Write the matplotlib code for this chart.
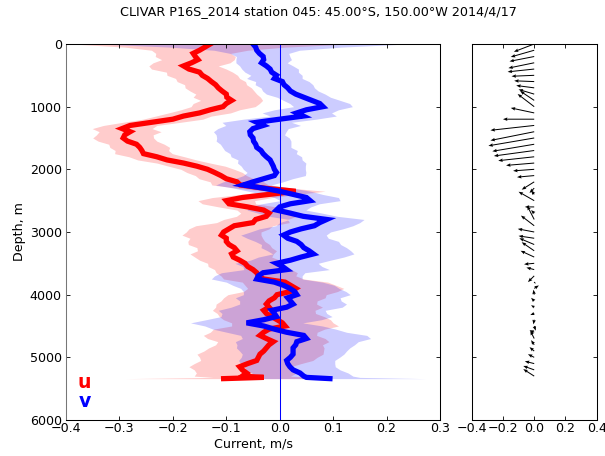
import numpy as np
import matplotlib
matplotlib.use("Agg")
import matplotlib.pyplot as plt

title = "CLIVAR P16S_2014 station 045: 45.00\u00b0S, 150.00\u00b0W 2014/4/17"

depth = [0, 50, 100, 150, 200, 250, 300, 350, 400, 450, 500, 550, 600, 650, 700, 750,
         800, 850, 900, 950, 1000, 1050, 1100, 1150, 1200, 1250, 1300, 1350, 1400, 1450,
         1500, 1550, 1600, 1650, 1700, 1750, 1800, 1850, 1900, 1950, 2000, 2050, 2100,
         2150, 2200, 2250, 2300, 2350, 2400, 2450, 2500, 2550, 2600, 2650, 2700, 2750,
         2800, 2850, 2900, 2950, 3000, 3050, 3100, 3150, 3200, 3250, 3300, 3350, 3400,
         3450, 3500, 3550, 3600, 3650, 3700, 3750, 3800, 3850, 3900, 3950, 4000, 4050,
         4100, 4150, 4200, 4250, 4300, 4350, 4400, 4450, 4500, 4550, 4600, 4650, 4700,
         4750, 4800, 4850, 4900, 4950, 5000, 5050, 5100, 5150, 5200, 5250, 5300, 5320, 5340]

u = [-0.13, -0.14, -0.15, -0.162, -0.158, -0.153, -0.165, -0.18, -0.17, -0.15, -0.145,
     -0.135, -0.128, -0.12, -0.115, -0.108, -0.10, -0.099, -0.09, -0.10, -0.106, -0.13,
     -0.15, -0.18, -0.20, -0.24, -0.28, -0.295, -0.28, -0.29, -0.293, -0.285, -0.268,
     -0.262, -0.258, -0.255, -0.23, -0.211, -0.18, -0.155, -0.135, -0.122, -0.11, -0.10,
     -0.08, -0.074, -0.03, 0.03, -0.02, -0.07, -0.10, -0.095, -0.06, -0.03, -0.02, -0.025,
     -0.045, -0.05, -0.085, -0.095, -0.105, -0.109, -0.10, -0.10, -0.095, -0.085, -0.08,
     -0.09, -0.087, -0.075, -0.065, -0.06, -0.05, -0.043, -0.04, -0.03, 0.01, 0.02, 0.03,
     0.02, -0.005, -0.01, -0.02, -0.025, -0.02, -0.03, -0.025, -0.015, -0.005, 0.005, 0.01,
     -0.02, -0.03, -0.037, -0.025, -0.012, -0.02, -0.025, -0.03, -0.037, -0.04, -0.043,
     -0.06, -0.075, -0.07, -0.062, -0.07, -0.03, -0.105]

v = [-0.05, -0.045, -0.043, -0.038, -0.031, -0.03, -0.034, -0.025, -0.018, -0.015, -0.006,
     -0.01, 0.005, 0.008, 0.015, 0.02, 0.03, 0.045, 0.06, 0.075, 0.081, 0.05, 0.032, 0.044,
     0.0, -0.043, -0.031, -0.05, -0.056, -0.055, -0.05, -0.049, -0.045, -0.043, -0.035,
     -0.031, -0.025, -0.018, -0.015, -0.012, -0.01, -0.006, -0.01, -0.03, -0.05, -0.068,
     -0.031, 0.0, 0.025, 0.05, 0.057, 0.02, 0.0, -0.006, 0.02, 0.044, 0.088, 0.075, 0.065,
     0.04, 0.02, 0.007, 0.015, 0.032, 0.04, 0.045, 0.055, 0.063, 0.04, 0.02, -0.006, 0.005,
     0.013, -0.031, -0.04, -0.043, -0.01, 0.007, 0.019, 0.028, 0.032, 0.015, 0.02, 0.025,
     0.013, -0.015, -0.01, -0.006, -0.03, -0.062, -0.03, -0.01, 0.013, 0.045, 0.05, 0.032,
     0.03, 0.025, 0.025, 0.025, 0.02, 0.013, 0.015, 0.019, 0.025, 0.038, 0.045, 0.05, 0.094]

u_err = [0.26, 0.15, 0.09, 0.07, 0.075, 0.068, 0.072, 0.065, 0.07, 0.062, 0.066, 0.06,
         0.064, 0.058, 0.062, 0.06, 0.057, 0.063, 0.058, 0.062, 0.06, 0.055, 0.058, 0.052,
         0.056, 0.054, 0.05, 0.056, 0.058, 0.053, 0.057, 0.055, 0.052, 0.056, 0.05, 0.054,
         0.052, 0.055, 0.05, 0.053, 0.05, 0.052, 0.048, 0.051, 0.05, 0.053, 0.05, 0.055,
         0.052, 0.056, 0.053, 0.05, 0.054, 0.05, 0.053, 0.056, 0.06, 0.068, 0.072, 0.075,
         0.07, 0.074, 0.068, 0.072, 0.076, 0.07, 0.074, 0.078, 0.072, 0.075, 0.07, 0.074,
         0.072, 0.076, 0.07, 0.075, 0.08, 0.085, 0.09, 0.088, 0.092, 0.095, 0.09, 0.094,
         0.1, 0.096, 0.092, 0.098, 0.1, 0.095, 0.1, 0.104, 0.1, 0.106, 0.11, 0.104, 0.1, 0.108,
         0.112, 0.118, 0.11, 0.105, 0.1, 0.095, 0.09, 0.094, 0.09, 0.095, 0.185]

v_err = [0.29, 0.16, 0.08, 0.055, 0.05, 0.052, 0.048, 0.05, 0.053, 0.05, 0.048, 0.052,
         0.05, 0.054, 0.05, 0.052, 0.055, 0.05, 0.053, 0.056, 0.055, 0.06, 0.065, 0.062,
         0.068, 0.065, 0.07, 0.066, 0.068, 0.064, 0.068, 0.07, 0.066, 0.064, 0.068, 0.062,
         0.066, 0.06, 0.064, 0.06, 0.058, 0.055, 0.058, 0.054, 0.056, 0.052, 0.055, 0.058,
         0.055, 0.06, 0.056, 0.054, 0.058, 0.055, 0.06, 0.064, 0.07, 0.075, 0.072, 0.078,
         0.075, 0.08, 0.076, 0.078, 0.074, 0.08, 0.078, 0.076, 0.08, 0.075, 0.078, 0.074,
         0.08, 0.078, 0.082, 0.085, 0.09, 0.095, 0.092, 0.096, 0.1, 0.098, 0.095, 0.1, 0.104,
         0.1, 0.098, 0.104, 0.108, 0.105, 0.11, 0.115, 0.112, 0.118, 0.12, 0.115, 0.11,
         0.106, 0.1, 0.095, 0.092, 0.09, 0.088, 0.085, 0.088, 0.09, 0.092, 0.1, 0.18]

xticks_left = [-0.4, -0.3, -0.2, -0.1, 0.0, 0.1, 0.2, 0.3]
xticks_right = [-0.4, -0.2, 0.0, 0.2, 0.4]
yticks = [0, 1000, 2000, 3000, 4000, 5000, 6000]

plt.rcParams['font.family'] = ['DejaVu Sans']
plt.rcParams['font.size'] = 12

d = np.array(depth, dtype=float)
ua = np.array(u)
va = np.array(v)
ue = np.array(u_err)
ve = np.array(v_err)

fig = plt.figure(figsize=(8, 6.03), dpi=75.625)
W, H = 605.0, 456.0
ax = fig.add_axes([66 / W, (H - 420) / H, 374 / W, 376 / H])
ax2 = fig.add_axes([471.7 / W, (H - 420) / H, 125 / W, 376 / H])

ax.fill_betweenx(d, ua - ue, ua + ue, color='r', alpha=0.2, linewidth=0)
ax.fill_betweenx(d, va - ve, va + ve, color='b', alpha=0.2, linewidth=0)
ax.plot(ua, d, color='r', linewidth=5, solid_joinstyle='miter')
ax.plot(va, d, color='b', linewidth=5, solid_joinstyle='miter')
ax.axvline(0, color='b', linewidth=1)
ax.text(-0.365, 5490, 'u', color='r', fontsize=18, fontweight='bold', ha='center', va='baseline')
ax.text(-0.365, 5790, 'v', color='b', fontsize=18, fontweight='bold', ha='center', va='baseline')

ax.set_xlim(-0.4, 0.3)
ax.set_ylim(6000, 0)
ax.set_xticks(xticks_left)
ax.set_yticks(yticks)
ax.set_xlabel('Current, m/s', labelpad=3)
ax.set_ylabel('Depth, m', labelpad=4)

sel = (d % 100 == 0)
ax2.quiver(np.zeros(sel.sum()), d[sel], ua[sel], va[sel], angles='uv',
           scale_units='x', scale=1, width=0.008, headwidth=3.5, headlength=4.5,
           headaxislength=4, color='k')
ax2.set_xlim(-0.4, 0.4)
ax2.set_ylim(6000, 0)
ax2.set_xticks(xticks_right)
ax2.set_yticks(yticks)
ax2.set_yticklabels([])

for a in (ax, ax2):
    a.tick_params(direction='in', top=True, right=True, length=4, width=0.8)
    a.tick_params(axis='x', pad=1.5)
    a.tick_params(axis='y', pad=4)
    for s in a.spines.values():
        s.set_linewidth(1.0)
ax.spines['left'].set_color('#777777')

fig.text(318 / W, 1 - 12 / H, title, ha='center', va='center', fontsize=12.2)

fig.savefig('out.png', dpi=75.625)
